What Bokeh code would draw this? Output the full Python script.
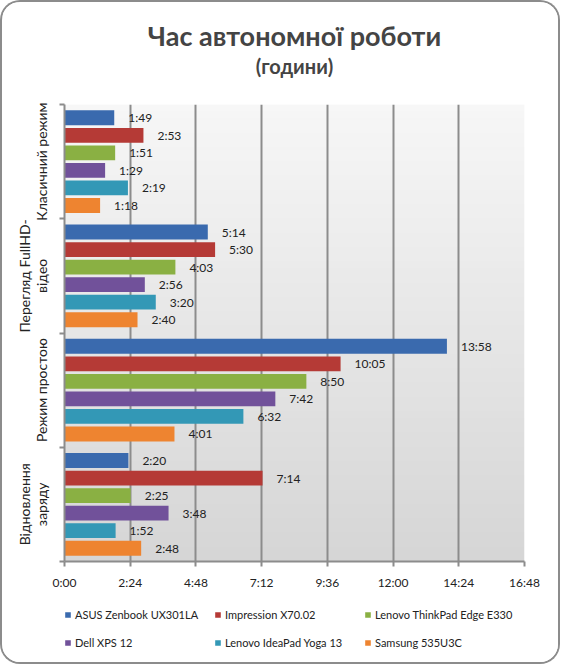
import numpy as np
from bokeh.plotting import figure
from bokeh.layouts import column
from bokeh.models import (Range1d, FixedTicker, Title, Legend, LegendItem, ColumnDataSource)
from bokeh.core.properties import value
from bokeh.embed import file_html
from bokeh.resources import INLINE

# ---------------- data ----------------
categories = ["Класичний режим", "Перегляд FullHD-\nвідео", "Режим простою", "Відновлення\nзаряду"]
series_names = ["ASUS Zenbook UX301LA", "Impression X70.02", "Lenovo ThinkPad Edge E330",
                "Dell XPS 12", "Lenovo IdeaPad Yoga 13", "Samsung 535U3C"]
# battery life in minutes, per series, per category
asus = [109, 314, 838, 140]
impression = [173, 330, 605, 434]
thinkpad = [111, 243, 530, 145]
dell = [89, 176, 462, 228]
yoga = [139, 200, 392, 112]
samsung = [78, 160, 241, 168]
series_values = [asus, impression, thinkpad, dell, yoga, samsung]
xtick_values = [0, 144, 288, 432, 576, 720, 864, 1008]
xtick_labels = ["0:00", "2:24", "4:48", "7:12", "9:36", "12:00", "14:24", "16:48"]

colors = ["#3A6AAE", "#B53A36", "#8AB043", "#71519A", "#3398B6", "#EE8430"]
FONT = "Lato"
GRID = "#8c8c8c"

def fmt(m):
    return f"{m // 60}:{m % 60:02d}"

n_cat = len(categories)
n_ser = len(series_names)
step = 0.1536
bar_h = 0.13

# ---------------- main chart ----------------
p = figure(width=560, height=590, output_backend="svg", toolbar_location=None,
           x_range=Range1d(0, xtick_values[-1]), y_range=Range1d(0, n_cat),
           min_border_left=62, min_border_right=38, min_border_top=102, min_border_bottom=31)
p.styles = {"border": "2px solid #8c8c8c", "border-bottom": "none",
            "border-radius": "20px 20px 0 0", "box-sizing": "border-box", "overflow": "hidden"}
p.border_fill_color = "white"
p.outline_line_color = None

# vertical gradient of the plot area (row 0 = bottom)
n_g = 64
top_c = np.array([247, 247, 247]); bot_c = np.array([214, 214, 214])
img = np.zeros((n_g, 1), dtype=np.uint32)
view = img.view(dtype=np.uint8).reshape((n_g, 1, 4))
for k in range(n_g):
    t = k / (n_g - 1)
    c = bot_c * (1 - t) + top_c * t
    view[k, 0, 0:3] = c.astype(np.uint8)
    view[k, 0, 3] = 255
p.image_rgba(image=[img], x=0, y=0, dw=xtick_values[-1], dh=n_cat, level="image")

centers = [n_cat - i - 0.5 for i in range(n_cat)]
for j, (name, vals) in enumerate(zip(series_names, series_values)):
    ys = [c - (j - (n_ser - 1) / 2) * step for c in centers]
    src = ColumnDataSource(dict(y=ys, v=vals, lab=[fmt(v) for v in vals]))
    p.hbar(y="y", left=0, right="v", height=bar_h, source=src,
           fill_color=colors[j], line_color=None)
    p.text(x="v", y="y", text="lab", source=src, x_offset=14,
           text_font=value(FONT), text_font_size="12px", text_color="#222222",
           text_baseline="middle", text_align="left")

# axes
p.xaxis.ticker = FixedTicker(ticks=xtick_values)
p.xaxis.major_label_overrides = {v: l for v, l in zip(xtick_values, xtick_labels)}
p.xaxis.major_label_text_font = FONT
p.xaxis.major_label_text_font_size = "12px"
p.xaxis.major_label_text_color = "#222222"
p.xaxis.major_label_standoff = 8
p.xaxis.axis_line_color = GRID
p.xaxis.axis_line_width = 2
p.xaxis.major_tick_line_color = GRID
p.xaxis.major_tick_line_width = 2
p.xaxis.major_tick_out = 5
p.xaxis.major_tick_in = 0
p.xaxis.minor_tick_line_color = None

bounds = [float(i) for i in range(n_cat + 1)]
p.yaxis.ticker = FixedTicker(ticks=centers, minor_ticks=bounds)
p.yaxis.major_label_overrides = {c: l for c, l in zip(centers, categories)}
p.yaxis.major_label_orientation = "vertical"
p.yaxis.major_label_text_font = FONT
p.yaxis.major_label_text_font_size = "14px"
p.yaxis.major_label_text_line_height = 1.0
p.yaxis.major_label_text_color = "#222222"
p.yaxis.major_label_standoff = 9
p.yaxis.major_tick_line_color = None
p.yaxis.minor_tick_line_color = GRID
p.yaxis.minor_tick_line_width = 2
p.yaxis.minor_tick_out = 5
p.yaxis.minor_tick_in = 0
p.yaxis.axis_line_color = GRID
p.yaxis.axis_line_width = 2

p.xgrid.ticker = FixedTicker(ticks=xtick_values)
p.xgrid.grid_line_color = GRID
p.xgrid.grid_line_width = 2
p.ygrid.grid_line_color = None

# titles: first-added Title sits nearest the frame, p.title outermost
p.title.text = "Час автономної роботи"
p.title.align = "center"
p.title.offset = -12
p.title.text_font = FONT
p.title.text_font_size = "27px"
p.title.text_font_style = "bold"
p.title.standoff = 0
p.add_layout(Title(text=" ", align="center", text_font=FONT,
                   text_font_size="12px", standoff=10), "above")
p.add_layout(Title(text="(години)", align="center", offset=-12, text_font=FONT,
                   text_font_size="20px", text_font_style="bold", standoff=0), "above")

# ---------------- legend strip ----------------
pl = figure(width=560, height=74, output_backend="svg", toolbar_location=None,
            x_range=Range1d(0, 1), y_range=Range1d(0, 1),
            x_axis_location=None, y_axis_location=None,
            min_border_left=0, min_border_right=0, min_border_top=0, min_border_bottom=0)
pl.styles = {"border": "2px solid #8c8c8c", "border-top": "none",
             "border-radius": "0 0 20px 20px", "box-sizing": "border-box", "overflow": "hidden"}
pl.outline_line_color = None
pl.grid.grid_line_color = None
pl.border_fill_color = "white"
items = []
for j, name in enumerate(series_names):
    r = pl.hbar(y=[0], left=[0], right=[0], height=0, fill_color=colors[j], line_color=None)
    items.append(LegendItem(label=name, renderers=[r]))

legend = Legend(items=items, orientation="horizontal", nrows=2,
                glyph_width=7, glyph_height=7, label_standoff=4, label_width=139,
                label_height=28, spacing=0, padding=0, margin=0,
                label_text_font=FONT, label_text_font_size="11px", label_text_color="#222222",
                border_line_color=None, background_fill_alpha=0, location=(0, 8))
pl.add_layout(legend, "center")

layout = column(p, pl, spacing=0)
open("out.html", "w").write(file_html(layout, INLINE))
